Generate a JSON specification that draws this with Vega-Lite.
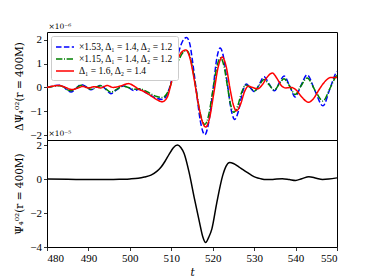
{
  "$schema": "https://vega.github.io/schema/vega-lite/v6.json",
  "padding": {"left": 14, "top": 22, "right": 5, "bottom": 3},
  "bounds": "flush",
  "spacing": 0,
  "config": {
    "font": "Liberation Serif",
    "view": {"stroke": "#000", "strokeWidth": 1},
    "axis": {
      "grid": false, "domain": false, "tickColor": "#000", "tickSize": 3.5, "tickWidth": 0.8,
      "labelFontSize": 11, "labelColor": "#000", "labelPadding": 2,
      "titleFontSize": 10.5, "titleFont": "DejaVu Serif", "titleFontWeight": "normal", "titleColor": "#000", "titlePadding": 5
    },
    "title": {"fontSize": 7.5, "font": "DejaVu Serif", "fontWeight": "normal", "color": "#000", "anchor": "start", "frame": "group", "offset": 2, "dx": 1.5}
  },
  "datasets": {
    "top": [
      {"t":480,"v":0.0,"s":"B"},{"t":481,"v":0.04,"s":"B"},{"t":482,"v":0.08,"s":"B"},{"t":483,"v":0.09,"s":"B"},{"t":484,"v":0.03,"s":"B"},{"t":485,"v":-0.13,"s":"B"},{"t":485.8,"v":-0.19,"s":"B"},{"t":487,"v":-0.04,"s":"B"},{"t":488.2,"v":0.12,"s":"B"},{"t":489.5,"v":0.03,"s":"B"},{"t":490.6,"v":-0.1,"s":"B"},{"t":491.8,"v":0.0,"s":"B"},{"t":493,"v":0.09,"s":"B"},{"t":494.2,"v":-0.08,"s":"B"},{"t":495.4,"v":-0.26,"s":"B"},{"t":496.8,"v":-0.1,"s":"B"},{"t":498.4,"v":0.06,"s":"B"},{"t":499.8,"v":-0.02,"s":"B"},{"t":501,"v":-0.13,"s":"B"},{"t":502.2,"v":-0.08,"s":"B"},{"t":503.5,"v":-0.18,"s":"B"},{"t":505,"v":-0.33,"s":"B"},{"t":506.5,"v":-0.46,"s":"B"},{"t":507.8,"v":-0.5,"s":"B"},{"t":508.7,"v":-0.38,"s":"B"},{"t":509.6,"v":0.0,"s":"B"},{"t":510.5,"v":0.6,"s":"B"},{"t":511.5,"v":1.3,"s":"B"},{"t":512.5,"v":1.85,"s":"B"},{"t":513.7,"v":2.09,"s":"B"},{"t":514.5,"v":1.8,"s":"B"},{"t":515.2,"v":1.0,"s":"B"},{"t":516,"v":-0.07,"s":"B"},{"t":517,"v":-1.39,"s":"B"},{"t":518.1,"v":-1.98,"s":"B"},{"t":519,"v":-1.49,"s":"B"},{"t":520,"v":-0.2,"s":"B"},{"t":521,"v":1.23,"s":"B"},{"t":521.8,"v":1.65,"s":"B"},{"t":522.6,"v":1.28,"s":"B"},{"t":523.5,"v":0.2,"s":"B"},{"t":524.5,"v":-0.97,"s":"B"},{"t":525.3,"v":-1.34,"s":"B"},{"t":526.2,"v":-1.0,"s":"B"},{"t":527.2,"v":-0.2,"s":"B"},{"t":528.1,"v":0.14,"s":"B"},{"t":529,"v":0.0,"s":"B"},{"t":530.1,"v":-0.18,"s":"B"},{"t":531.2,"v":0.12,"s":"B"},{"t":532.4,"v":0.45,"s":"B"},{"t":533.6,"v":0.15,"s":"B"},{"t":534.9,"v":-0.14,"s":"B"},{"t":536.1,"v":0.2,"s":"B"},{"t":537.2,"v":0.48,"s":"B"},{"t":538.6,"v":0.05,"s":"B"},{"t":539.9,"v":-0.4,"s":"B"},{"t":541.3,"v":0.08,"s":"B"},{"t":542.8,"v":0.53,"s":"B"},{"t":544.7,"v":-0.15,"s":"B"},{"t":546.6,"v":-0.77,"s":"B"},{"t":548.3,"v":-0.05,"s":"B"},{"t":549.9,"v":0.65,"s":"B"},{"t":550,"v":0.67,"s":"B"},
      {"t":480,"v":0.0,"s":"G"},{"t":481,"v":0.03,"s":"G"},{"t":482,"v":0.06,"s":"G"},{"t":483,"v":0.07,"s":"G"},{"t":484,"v":0.02,"s":"G"},{"t":485,"v":-0.1,"s":"G"},{"t":485.8,"v":-0.14,"s":"G"},{"t":487,"v":-0.03,"s":"G"},{"t":488.2,"v":0.09,"s":"G"},{"t":489.5,"v":0.02,"s":"G"},{"t":490.6,"v":-0.08,"s":"G"},{"t":491.8,"v":0.0,"s":"G"},{"t":493,"v":0.07,"s":"G"},{"t":494.2,"v":-0.06,"s":"G"},{"t":495.4,"v":-0.2,"s":"G"},{"t":496.8,"v":-0.08,"s":"G"},{"t":498.4,"v":0.05,"s":"G"},{"t":499.8,"v":-0.01,"s":"G"},{"t":501,"v":-0.08,"s":"G"},{"t":502.2,"v":-0.05,"s":"G"},{"t":503.5,"v":-0.12,"s":"G"},{"t":505,"v":-0.26,"s":"G"},{"t":506.5,"v":-0.38,"s":"G"},{"t":507.8,"v":-0.42,"s":"G"},{"t":508.7,"v":-0.32,"s":"G"},{"t":509.6,"v":-0.02,"s":"G"},{"t":510.5,"v":0.45,"s":"G"},{"t":511.5,"v":0.98,"s":"G"},{"t":512.5,"v":1.38,"s":"G"},{"t":513.7,"v":1.55,"s":"G"},{"t":514.5,"v":1.3,"s":"G"},{"t":515.2,"v":0.74,"s":"G"},{"t":516,"v":-0.1,"s":"G"},{"t":517,"v":-1.1,"s":"G"},{"t":518.1,"v":-1.55,"s":"G"},{"t":519,"v":-1.17,"s":"G"},{"t":520,"v":-0.16,"s":"G"},{"t":521,"v":0.86,"s":"G"},{"t":521.9,"v":1.24,"s":"G"},{"t":522.7,"v":0.91,"s":"G"},{"t":523.5,"v":0.1,"s":"G"},{"t":524.3,"v":-0.71,"s":"G"},{"t":525.1,"v":-1.04,"s":"G"},{"t":526,"v":-0.79,"s":"G"},{"t":527,"v":-0.2,"s":"G"},{"t":528,"v":0.1,"s":"G"},{"t":529,"v":0.0,"s":"G"},{"t":530.1,"v":-0.15,"s":"G"},{"t":531.2,"v":0.09,"s":"G"},{"t":532.4,"v":0.33,"s":"G"},{"t":533.6,"v":0.11,"s":"G"},{"t":534.9,"v":-0.11,"s":"G"},{"t":536.1,"v":0.15,"s":"G"},{"t":537.2,"v":0.36,"s":"G"},{"t":538.6,"v":0.04,"s":"G"},{"t":539.9,"v":-0.3,"s":"G"},{"t":541.3,"v":0.06,"s":"G"},{"t":542.8,"v":0.4,"s":"G"},{"t":544.7,"v":-0.12,"s":"G"},{"t":546.6,"v":-0.57,"s":"G"},{"t":548.3,"v":-0.04,"s":"G"},{"t":549.9,"v":0.5,"s":"G"},{"t":550,"v":0.52,"s":"G"},
      {"t":480,"v":0.0,"s":"R"},{"t":481,"v":0.04,"s":"R"},{"t":482.9,"v":0.08,"s":"R"},{"t":484.5,"v":0.0,"s":"R"},{"t":486,"v":-0.09,"s":"R"},{"t":487.5,"v":-0.02,"s":"R"},{"t":488.6,"v":0.04,"s":"R"},{"t":490,"v":-0.02,"s":"R"},{"t":491.5,"v":0.03,"s":"R"},{"t":493,"v":-0.02,"s":"R"},{"t":494.5,"v":0.08,"s":"R"},{"t":496,"v":0.0,"s":"R"},{"t":497.7,"v":0.06,"s":"R"},{"t":499.7,"v":0.16,"s":"R"},{"t":501,"v":0.06,"s":"R"},{"t":502.2,"v":-0.08,"s":"R"},{"t":503.3,"v":-0.16,"s":"R"},{"t":504.9,"v":-0.33,"s":"R"},{"t":506.5,"v":-0.51,"s":"R"},{"t":507.8,"v":-0.6,"s":"R"},{"t":509,"v":-0.42,"s":"R"},{"t":509.8,"v":0.05,"s":"R"},{"t":510.6,"v":0.65,"s":"R"},{"t":511.5,"v":1.15,"s":"R"},{"t":512.5,"v":1.48,"s":"R"},{"t":513.5,"v":1.57,"s":"R"},{"t":514.5,"v":1.23,"s":"R"},{"t":515.5,"v":0.36,"s":"R"},{"t":516.5,"v":-0.66,"s":"R"},{"t":517.5,"v":-1.43,"s":"R"},{"t":518.3,"v":-1.66,"s":"R"},{"t":519.2,"v":-1.31,"s":"R"},{"t":520.3,"v":-0.2,"s":"R"},{"t":521.3,"v":0.84,"s":"R"},{"t":522.3,"v":1.27,"s":"R"},{"t":523.2,"v":0.91,"s":"R"},{"t":524.3,"v":-0.17,"s":"R"},{"t":525,"v":-0.74,"s":"R"},{"t":525.7,"v":-0.98,"s":"R"},{"t":526.7,"v":-0.71,"s":"R"},{"t":527.7,"v":-0.17,"s":"R"},{"t":528.6,"v":0.05,"s":"R"},{"t":529.6,"v":0.0,"s":"R"},{"t":530.8,"v":-0.06,"s":"R"},{"t":532,"v":0.12,"s":"R"},{"t":533.1,"v":0.42,"s":"R"},{"t":534.4,"v":0.6,"s":"R"},{"t":535.5,"v":0.38,"s":"R"},{"t":536.6,"v":0.07,"s":"R"},{"t":537.6,"v":-0.02,"s":"R"},{"t":538.9,"v":0.0,"s":"R"},{"t":540.1,"v":-0.1,"s":"R"},{"t":541.5,"v":-0.4,"s":"R"},{"t":543.1,"v":-0.62,"s":"R"},{"t":544.4,"v":-0.45,"s":"R"},{"t":545.5,"v":-0.14,"s":"R"},{"t":546.5,"v":0.12,"s":"R"},{"t":547.5,"v":0.32,"s":"R"},{"t":548.5,"v":0.42,"s":"R"},{"t":550,"v":0.42,"s":"R"}
    ],
    "bottom": [
      {"t":480,"v":0.0},{"t":485,"v":-0.01},{"t":490,"v":-0.03},{"t":495,"v":-0.03},{"t":498,"v":-0.01},{"t":500,"v":0.01},{"t":502,"v":0.05},{"t":503.5,"v":0.12},{"t":505.1,"v":0.23},{"t":506.5,"v":0.45},{"t":507.5,"v":0.69},{"t":508.5,"v":1.05},{"t":509.5,"v":1.47},{"t":510.5,"v":1.85},{"t":511.5,"v":2.0},{"t":512.3,"v":1.86},{"t":513.1,"v":1.5},{"t":514.3,"v":0.39},{"t":515.6,"v":-1.17},{"t":516.8,"v":-2.54},{"t":517.6,"v":-3.4},{"t":518.3,"v":-3.74},{"t":519,"v":-3.45},{"t":519.8,"v":-2.93},{"t":521,"v":-1.37},{"t":522.4,"v":0.2},{"t":523.2,"v":0.75},{"t":524.1,"v":0.98},{"t":525,"v":0.92},{"t":526.3,"v":0.72},{"t":527.3,"v":0.55},{"t":528.3,"v":0.39},{"t":529.4,"v":0.22},{"t":530.4,"v":0.1},{"t":531.6,"v":0.02},{"t":532.8,"v":-0.03},{"t":534.5,"v":-0.02},{"t":536.8,"v":0.02},{"t":538.5,"v":-0.03},{"t":540,"v":-0.08},{"t":541.5,"v":0.02},{"t":543.2,"v":0.14},{"t":545,"v":0.05},{"t":546.5,"v":-0.02},{"t":548,"v":0.0},{"t":550,"v":0.07}
    ]
  },
  "vconcat": [
    {
      "width": 290, "height": 108,
      "title": {"text": "×10⁻⁶"},
      "data": {"name": "top"},
      "mark": {"type": "line", "strokeWidth": 1.5, "interpolate": "monotone"},
      "encoding": {
        "x": {"field": "t", "type": "quantitative", "scale": {"domain": [480, 550], "nice": false},
              "axis": {"labels": false, "ticks": false, "title": null}},
        "y": {"field": "v", "type": "quantitative", "scale": {"domain": [-2.2, 2.32], "nice": false, "zero": false},
              "axis": {"values": [-2, -1, 0, 1, 2], "format": "d", "title": "ΔΨ₄⁰²(r = 400M)"}},
        "color": {"field": "s", "type": "nominal",
                  "scale": {"domain": ["B", "G", "R"], "range": ["#0000ff", "#008000", "#ff0000"]},
                  "legend": {"title": null, "orient": "top-left", "offset": 4, "symbolType": "M-1,0H2", "symbolSize": 144, "symbolStrokeWidth": 1.5,
                             "labelFontSize": 9.5, "labelOffset": 10, "labelColor": "#000", "fillColor": "#ffffff", "strokeColor": "#cccccc", "padding": 4, "cornerRadius": 2, "rowPadding": 0,
                             "labelExpr": "datum.value == 'B' ? '×1.53, Δ₁ = 1.4, Δ₂ = 1.2' : datum.value == 'G' ? '×1.15, Δ₁ = 1.4, Δ₂ = 1.2' : 'Δ₁ = 1.6, Δ₂ = 1.4'"}},
        "strokeDash": {"field": "s", "type": "nominal",
                       "scale": {"domain": ["B", "G", "R"], "range": [[5.5, 2.4], [6.4, 1.6, 1, 1.6], [1, 0]]},
                       "legend": {"title": null, "orient": "top-left", "offset": 4, "symbolType": "M-1,0H2", "symbolSize": 144, "symbolStrokeWidth": 1.5,
                             "labelFontSize": 9.5, "labelOffset": 10, "labelColor": "#000", "fillColor": "#ffffff", "strokeColor": "#cccccc", "padding": 4, "cornerRadius": 2, "rowPadding": 0,
                             "labelExpr": "datum.value == 'B' ? '×1.53, Δ₁ = 1.4, Δ₂ = 1.2' : datum.value == 'G' ? '×1.15, Δ₁ = 1.4, Δ₂ = 1.2' : 'Δ₁ = 1.6, Δ₂ = 1.4'"}}
      }
    },
    {
      "width": 290, "height": 107,
      "title": {"text": "×10⁻⁵"},
      "data": {"name": "bottom"},
      "mark": {"type": "line", "color": "#000", "strokeWidth": 1.5, "interpolate": "monotone"},
      "encoding": {
        "x": {"field": "t", "type": "quantitative", "scale": {"domain": [480, 550], "nice": false},
              "axis": {"values": [480, 490, 500, 510, 520, 530, 540, 550], "format": "d", "title": "t", "titleFontStyle": "italic", "titlePadding": 4}},
        "y": {"field": "v", "type": "quantitative", "scale": {"domain": [-4.0, 2.3], "nice": false, "zero": false},
              "axis": {"values": [-4, -2, 0, 2], "format": "d", "title": "Ψ₄⁰²(r = 400M)"}}
      }
    }
  ],
  "resolve": {"scale": {"color": "independent", "strokeDash": "independent"}, "legend": {"color": "independent", "strokeDash": "independent"}}
}
